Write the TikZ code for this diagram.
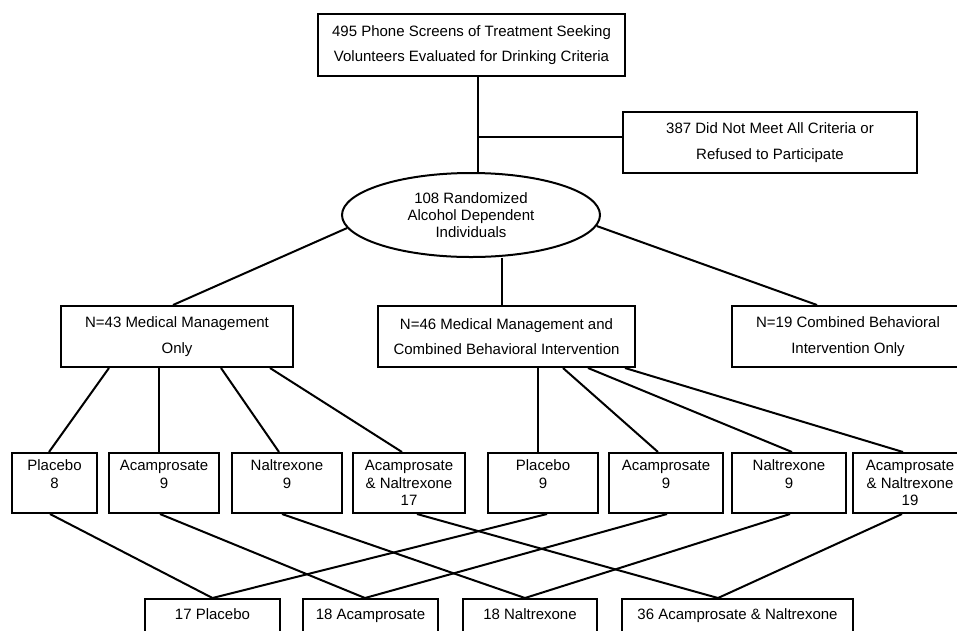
\documentclass[tikz,border=0pt]{standalone}
\usepackage{fontspec}
\setmainfont{Liberation Sans}
\usetikzlibrary{shapes.geometric}
\begin{document}
\begin{tikzpicture}[x=1pt,y=-1pt,
 box/.style={draw, line width=2pt, rectangle, inner sep=0pt, align=center, font=\fontsize{15}{25.5}\selectfont},
 small/.style={box, font=\fontsize{15}{17.5}\selectfont, minimum height=60pt},
 final/.style={draw, line width=2pt, inner sep=0pt, text height=20.5pt, text depth=20pt, anchor=north, font=\fontsize{15}{18}\selectfont},
 oval/.style={draw, ellipse, line width=2pt, inner sep=0pt, align=center, font=\fontsize{15}{17}\selectfont},
 link/.style={line width=2pt}]
\useasboundingbox (0,0) rectangle (957,630);
% top
\node[box, minimum width=307pt, minimum height=62pt] (screen) at (471.5,45) {495 Phone Screens of Treatment Seeking\\Volunteers Evaluated for Drinking Criteria};
\node[box, minimum width=294pt, minimum height=61pt] (excl) at (770,142.5) {387 Did Not Meet All Criteria or\\Refused to Participate};
\node[oval, minimum width=258pt, minimum height=84pt] (rand) at (471,215) {108 Randomized\\Alcohol Dependent\\Individuals};
\coordinate (j) at (478,136.5);
\draw[link] (screen.south -| j) -- (j |- rand.north);
\draw[link] (j) -- (j -| excl.west);
% middle
\node[box, minimum width=232pt, minimum height=61pt] (mm1) at (177,336.5) {N=43 Medical Management\\Only};
\node[box, minimum width=257pt, minimum height=61pt] (mm2) at (506.5,336.5) {N=46 Medical Management and\\Combined Behavioral Intervention};
\node[box, minimum width=232pt, minimum height=61pt] (cbi) at (848,336.5) {N=19 Combined Behavioral\\Intervention Only};
\draw[link] (rand.186) -- ([xshift=-4pt]mm1.north);
\draw[link] ([xshift=-4.5pt]mm2.north) -- ([xshift=-4.5pt]mm2.north |- rand.south);
\draw[link] (rand.355) -- ([xshift=-31pt]cbi.north);
% bottom row
\node[small, minimum width=85pt] (b1) at (54.5,483) {Placebo\\8\\\phantom{0}};
\node[small, minimum width=110pt] (b2) at (164,483) {Acamprosate\\9\\\phantom{0}};
\node[small, minimum width=110pt] (b3) at (287,483) {Naltrexone\\9\\\phantom{0}};
\node[small, minimum width=112pt] (b4) at (409,483) {Acamprosate\\\& Naltrexone\\17};
\node[small, minimum width=110pt] (b5) at (543,483) {Placebo\\9\\\phantom{0}};
\node[small, minimum width=114pt] (b6) at (666,483) {Acamprosate\\9\\\phantom{0}};
\node[small, minimum width=114pt] (b7) at (789,483) {Naltrexone\\9\\\phantom{0}};
\node[small, minimum width=114pt] (b8) at (910,483) {Acamprosate\\\& Naltrexone\\19};
\draw[link] ([xshift=-68pt]mm1.south) -- ([xshift=-5.5pt]b1.north);
\draw[link] ([xshift=-18pt]mm1.south) -- ([xshift=-5pt]b2.north);
\draw[link] ([xshift=44pt]mm1.south) -- ([xshift=-8pt]b3.north);
\draw[link] ([xshift=93pt]mm1.south) -- ([xshift=-7pt]b4.north);
\draw[link] ([xshift=31.5pt]mm2.south) -- ([xshift=-5pt]b5.north);
\draw[link] ([xshift=56.5pt]mm2.south) -- ([xshift=-8pt]b6.north);
\draw[link] ([xshift=81.5pt]mm2.south) -- ([xshift=3pt]b7.north);
\draw[link] ([xshift=118.5pt]mm2.south) -- ([xshift=-7pt]b8.north);
% final row
\node[final, minimum width=135pt] (f1) at (212.5,598) {17 Placebo};
\node[final, minimum width=135pt] (f2) at (370.5,598) {18 Acamprosate};
\node[final, minimum width=134pt] (f3) at (530,598) {18 Naltrexone};
\node[final, minimum width=231pt] (f4) at (737.5,598) {36 Acamprosate \& Naltrexone};
\draw[link] ([xshift=-4.5pt]b1.south) -- (f1.north);
\draw[link] ([xshift=4pt]b5.south) -- (f1.north);
\draw[link] ([xshift=-4pt]b2.south) -- ([xshift=-5.5pt]f2.north);
\draw[link] ([xshift=1pt]b6.south) -- ([xshift=-5.5pt]f2.north);
\draw[link] ([xshift=-5pt]b3.south) -- ([xshift=-5pt]f3.north);
\draw[link] ([xshift=1pt]b7.south) -- ([xshift=-5pt]f3.north);
\draw[link] ([xshift=8pt]b4.south) -- ([xshift=-19.5pt]f4.north);
\draw[link] ([xshift=-8pt]b8.south) -- ([xshift=-19.5pt]f4.north);
\end{tikzpicture}
\end{document}
